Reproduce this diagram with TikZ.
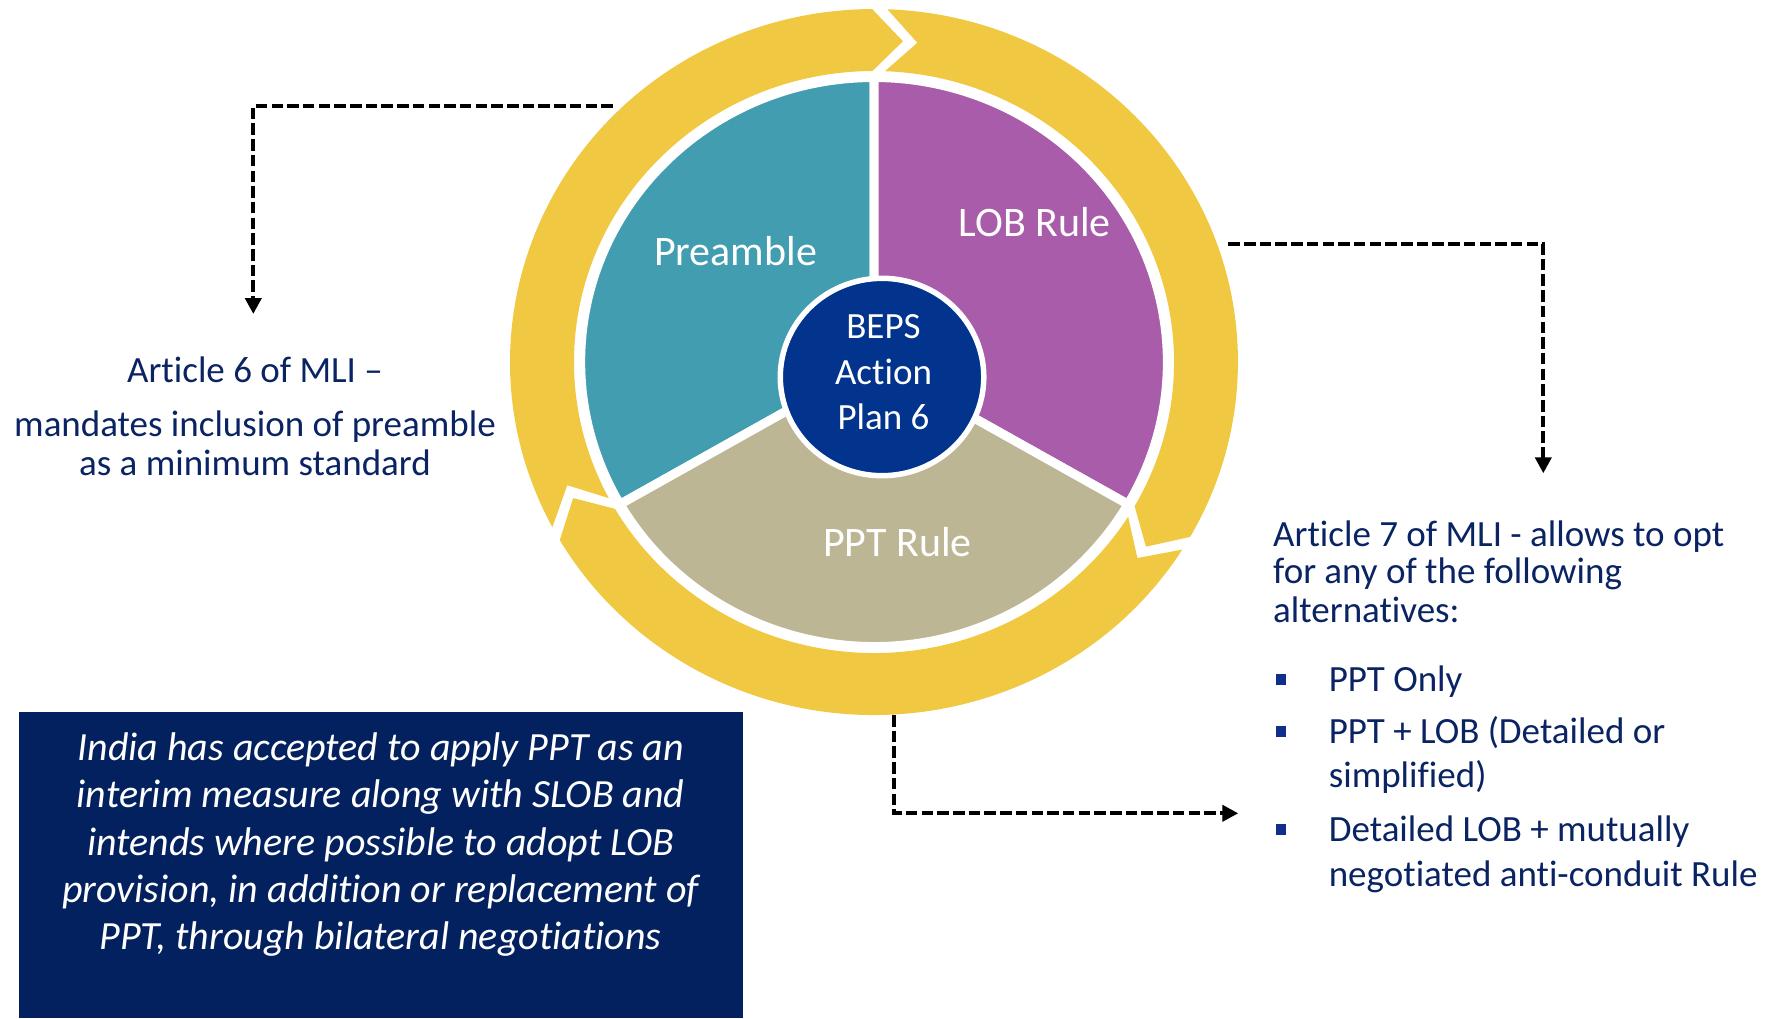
\documentclass[tikz,border=0pt]{standalone}
\usepackage{fontspec}
\setmainfont{Carlito}[Ligatures=NoCommon]
\usetikzlibrary{arrows.meta}
\definecolor{ringyellow}{HTML}{F0C841}
\definecolor{tealc}{HTML}{419DAF}
\definecolor{purplec}{HTML}{A85CA9}
\definecolor{tanc}{HTML}{BCB694}
\definecolor{centernavy}{HTML}{02338D}
\definecolor{textnavy}{HTML}{0A2463}
\definecolor{boxnavy}{HTML}{03215F}
\definecolor{bulletblue}{HTML}{0F2F8A}
\begin{document}
\begin{tikzpicture}[x=1pt,y=1pt,
  sector/.style={draw=white, line width=9pt},
  lbl/.style={inner sep=0, anchor=base, text=white, font=\fontsize{42}{50}\selectfont},
  ctr/.style={inner sep=0, anchor=base, text=white, font=\fontsize{37}{44}\selectfont},
  note/.style={inner sep=0, text=textnavy, font=\fontsize{37}{44}\selectfont},
  boxtxt/.style={inner sep=0, anchor=base, text=white, font=\fontsize{40}{47}\selectfont\itshape},
  conn/.style={line width=4pt, dash pattern=on 11.5pt off 4.2pt, -{Triangle[length=16pt,width=16pt]}},
  bul/.style={fill=bulletblue, minimum size=10.5pt, inner sep=0}
]
\path[use as bounding box] (0,0) rectangle (1781,-1018);

\begin{scope}[shift={(874,-362)}, xscale=1.031]
  \def\Ro{353}\def\Ri{291}\def\Rm{322}
  \foreach \N/\H in {207.9/90.3, 87.9/-29.7, 327.9/210.3} {
    \fill[ringyellow] (\N:\Ro) arc[start angle=\N, end angle=\H, radius=\Ro]
      -- ({\H-5.3}:\Rm) -- (\H:\Ri)
      arc[start angle=\H, end angle=\N, radius=\Ri]
      -- ({\N-5.4}:\Rm) -- cycle;
  }
  \def\Rp{284.5}
  \filldraw[sector, fill=tealc] (0,0) -- (90:\Rp) arc[start angle=90, end angle=210, radius=\Rp] -- cycle;
  \filldraw[sector, fill=purplec] (0,0) -- (-30:\Rp) arc[start angle=-30, end angle=90, radius=\Rp] -- cycle;
  \filldraw[sector, fill=tanc] (0,0) -- (210:\Rp) arc[start angle=210, end angle=330, radius=\Rp] -- cycle;
  \filldraw[draw=white, line width=5.5pt, fill=centernavy] (7.8,-15) circle[radius=98.7];
\end{scope}

\node[lbl] (preamble) at (735.5,-265) {Preamble};
\node[lbl] (lob) at (1034.8,-236.5) {LOB Rule};
\node[lbl] (ppt) at (897.5,-556.5) {PPT Rule};
\node[ctr] (beps1) at (883.5,-338.8) {BEPS};
\node[ctr] (beps2) at (883.5,-384.8) {Action};
\node[ctr] (beps3) at (883.5,-429.3) {Plan 6};

\node[note, anchor=base] (a6a) at (255,-382.7) {Article 6 of MLI –};
\node[note, anchor=base] (a6b) at (255,-436.7) {mandates inclusion of preamble};
\node[note, anchor=base] (a6c) at (255,-475) {as a minimum standard};

\node[note, anchor=base west] (a7a) at (1273,-546.7) {Article 7 of MLI - allows to opt};
\node[note, anchor=base west] (a7b) at (1273,-583.3) {for any of the following};
\node[note, anchor=base west] (a7c) at (1273,-622.7) {alternatives:};

\node[bul] (b1) at (1281,-679.7) {};
\node[bul] (b2) at (1281,-731.3) {};
\node[bul] (b3) at (1281,-829.7) {};
\node[note, anchor=base west] (i1) at (1328.6,-691.7) {PPT Only};
\node[note, anchor=base west] (i2a) at (1328.6,-743.3) {PPT + LOB (Detailed or};
\node[note, anchor=base west] (i2b) at (1328.6,-787.3) {simplified)};
\node[note, anchor=base west] (i3a) at (1328.6,-841.7) {Detailed LOB + mutually};
\node[note, anchor=base west] (i3b) at (1328.6,-886.7) {negotiated anti-conduit Rule};

\node[fill=boxnavy, minimum width=724.6pt, minimum height=306pt, anchor=north west, inner sep=0] (box) at (18.4,-712) {};
\node[boxtxt] (t1) at (380.7,-760) {India has accepted to apply PPT as an};
\node[boxtxt] (t2) at (380.7,-807.3) {interim measure along with SLOB and};
\node[boxtxt] (t3) at (380.7,-855) {intends where possible to adopt LOB};
\node[boxtxt] (t4) at (380.7,-902.3) {provision, in addition or replacement of};
\node[boxtxt] (t5) at (380.7,-949.3) {PPT, through bilateral negotiations};

\coordinate (la) at (612.7,-106);
\coordinate (lb) at (253.3,-106);
\coordinate (lc) at (253.3,-314);
\draw[conn] (la) -- (lb) -- (lc);
\coordinate (ra) at (1228.3,-244);
\coordinate (rb) at (1543.3,-244);
\coordinate (rc) at (1543.3,-473.3);
\draw[conn] (ra) -- (rb) -- (rc);
\coordinate (ba) at (894.3,-715);
\coordinate (bb) at (894.3,-813.3);
\coordinate (bc) at (1238.3,-813.3);
\draw[conn] (ba) -- (bb) -- (bc);
\end{tikzpicture}
\end{document}
